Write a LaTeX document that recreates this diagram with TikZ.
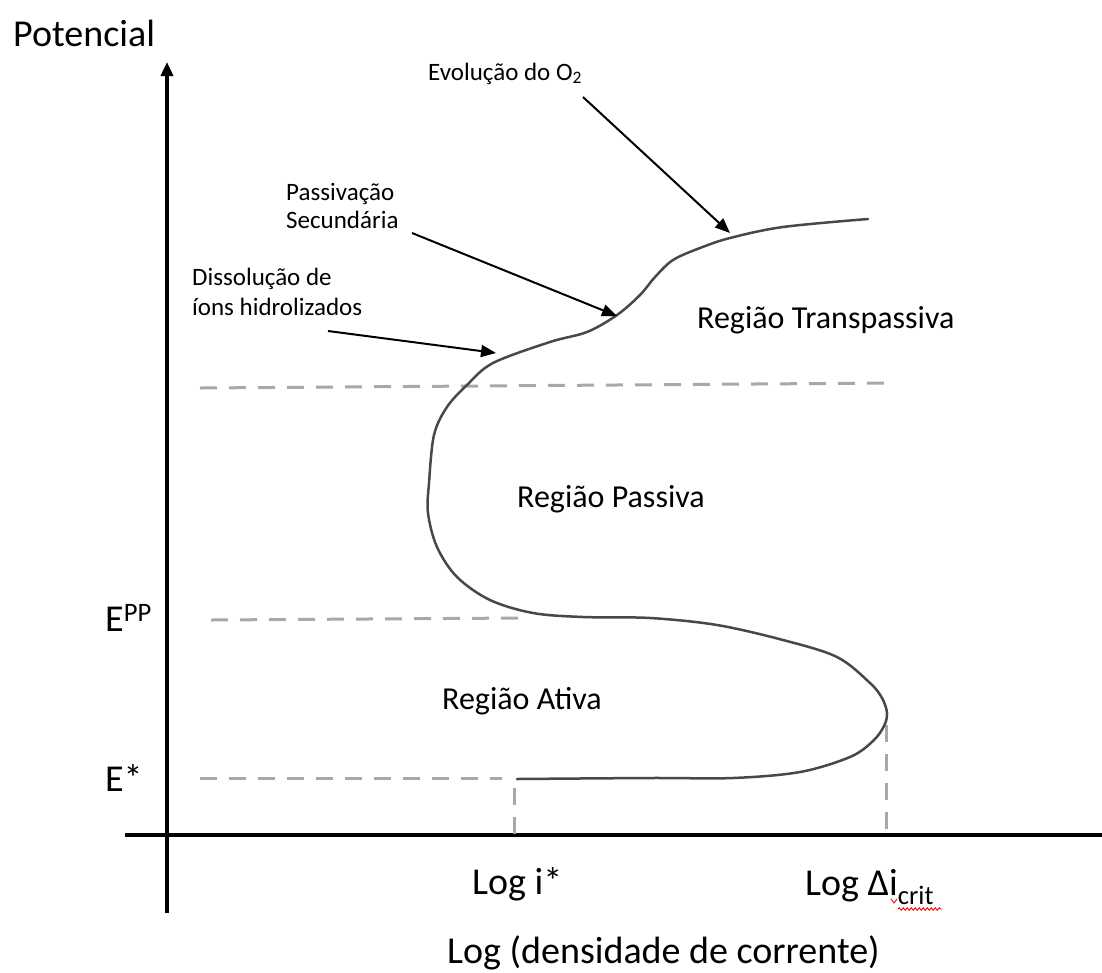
\documentclass[tikz,border=0pt]{standalone}
\usepackage{fontspec}
\setmainfont{Carlito}
\usetikzlibrary{arrows.meta,decorations.pathmorphing}
\definecolor{guidegray}{RGB}{168,168,168}
\definecolor{curvegray}{RGB}{72,72,72}
\begin{document}
\begin{tikzpicture}[x=1pt,y=-1pt,
  axis/.style={line width=3.5pt,black},
  guide/.style={line width=3pt,color=guidegray,dash pattern=on 17pt off 12pt},
  curveline/.style={line width=2.5pt,color=curvegray,line cap=round,line join=round},
  pointer/.style={line width=2pt,black,-{Triangle[length=15pt,width=12pt]}},
  lbl/.style={inner sep=0pt,anchor=base west,text=black},
  biglbl/.style={lbl,font=\fontsize{38}{44}\selectfont},
  midlbl/.style={lbl,font=\fontsize{32}{38}\selectfont},
  smalllbl/.style={lbl,font=\fontsize{25}{29}\selectfont},
]
\useasboundingbox (0,0) rectangle (1102,972);

% axes
\coordinate (yb) at (167,913);
\coordinate (yt) at (167,62);
\coordinate (xl) at (125,835);
\coordinate (xr) at (1102,835);
\draw[axis,-{Triangle[length=14pt,width=12pt]}] (yb) -- (yt);
\draw[axis] (xl) -- (xr);

% potential levels and current marks
\coordinate (gtL) at (200,388);  \coordinate (gtR) at (893,383);
\coordinate (gpL) at (211,620);  \coordinate (gpR) at (523,618);
\coordinate (gsL) at (200,778);  \coordinate (gsR) at (502,778);
\coordinate (viT) at (514,788);  \coordinate (viB) at (514,835);
\coordinate (vcT) at (886,725);  \coordinate (vcB) at (886,835);
\draw[guide] (gtL) -- (gtR);
\draw[guide] (gpL) -- (gpR);
\draw[guide] (gsL) -- (gsR);
\draw[guide] (viT) -- (viB);
\draw[guide] (vcT) -- (vcB);

% polarization curve
\draw[curveline] plot[smooth,tension=0.55] coordinates {
  (517,779) (650,778) (733,778) (800,772) (850,757) (873,741) (884,726)
  (887,713) (882,698) (870,683) (837,657) (783,640) (717,625) (650,618)
  (583,617) (533,613) (490,600) (457,577) (437,547) (428,513) (429,483)
  (434,435) (447,407) (467,385) (493,363) (550,342) (587,332) (617,315)
  (640,295) (655,277) (673,260) (700,248) (730,238) (783,227) (868,219)};

% axis labels
\node[biglbl] (pot) at (13,46) {Potencial};
\node[biglbl] (epp) at (105,631) {E\textsuperscript{PP}};
\node[biglbl] (est) at (105,791) {E*};
\node[biglbl] (logi) at (472,894) {Log i*};
\node[biglbl] (logc) at (805,895) {Log Δi\textsubscript{crit}};
\node[biglbl] (xlab) at (447,963) {Log (densidade de corrente)};

% spell-check mark under the subscript
\draw[red,line width=0.9pt] (891,899) -- (894,903) -- (897,899);
\draw[red,line width=0.9pt,decorate,decoration={snake,segment length=4pt,amplitude=1.2pt}] (898,909) -- (942,909);

% region labels
\node[midlbl] (rtr) at (697,328) {Região Transpassiva};
\node[midlbl] (rpa) at (517,507) {Região Passiva};
\node[midlbl] (rat) at (442,709) {Região Ativa};

% annotations
\node[smalllbl] (evo) at (428,80) {Evolução do O\textsubscript{2}};
\node[smalllbl] (pasA) at (286,200) {Passivação};
\node[smalllbl] (pasB) at (286,228) {Secundária};
\node[smalllbl] (disA) at (192,285) {Dissolução de};
\node[smalllbl] (disB) at (192,315) {íons hidrolizados};

\coordinate (evoT) at (583,97);  \coordinate (evoH) at (730,233);
\coordinate (pasT) at (412,233); \coordinate (pasH) at (617,316);
\coordinate (disT) at (328,331); \coordinate (disH) at (496,353);
\draw[pointer] (evoT) -- (evoH);
\draw[pointer] (pasT) -- (pasH);
\draw[pointer] (disT) -- (disH);
\end{tikzpicture}
\end{document}
